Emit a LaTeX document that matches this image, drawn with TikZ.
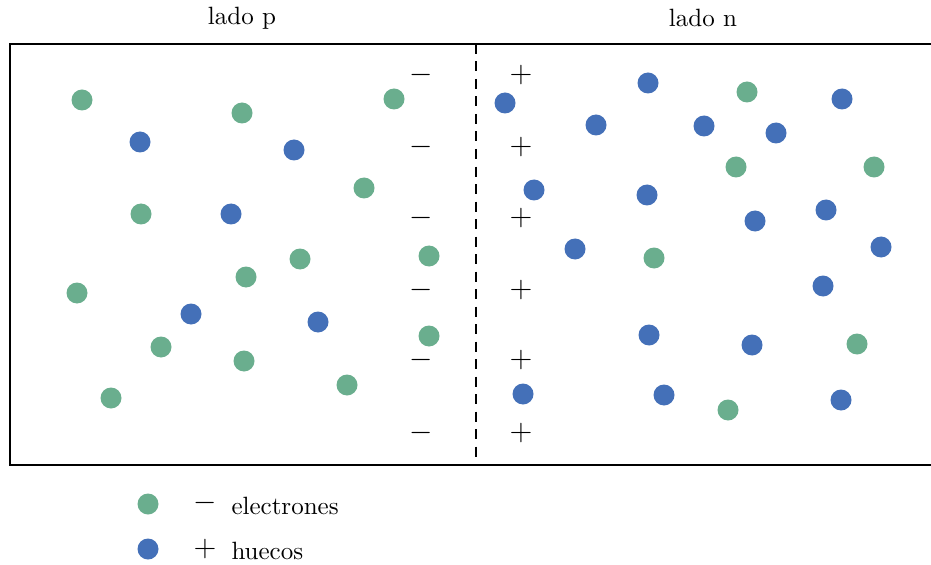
\documentclass[tikz,border=0pt]{standalone}
\begin{document}
\begin{tikzpicture}[x=0.4pt,y=-0.4pt,
  elec/.style={circle,fill=egreen,inner sep=0pt,minimum size=8.4pt},
  hole/.style={circle,fill=hblue,inner sep=0pt,minimum size=8.4pt},
  sign/.style={inner sep=0pt,font=\fontsize{11.5}{14}\selectfont}]
\definecolor{egreen}{HTML}{6AAE8E}
\definecolor{hblue}{HTML}{4470B8}
\useasboundingbox (0,0) rectangle (931,565);
\draw[line width=1pt] (10,44) rectangle (940,465);
\coordinate (dtop) at (476,44);
\coordinate (dbot) at (476,465);
\draw[line width=0.7pt,dash pattern=on 4pt off 3pt] (dtop) -- (dbot);
\node (lp) at (242,18) {lado p};
\node (ln) at (703,18) {lado n};
% electrons (green)
\foreach \x/\y [count=\i] in {82/100,242/113,394/99,364/188,141/214,429/256,300/259,246/277,77/293,429/336,161/347,244/361,347/385,111/398,747/92,736/167,874/167,654/258,857/344,728/410}
  \node[elec] (e\i) at (\x,\y) {};
% holes (blue)
\foreach \x/\y [count=\i] in {140/142,294/150,231/214,191/314,318/322,505/103,648/83,596/125,704/126,776/133,842/99,534/190,647/195,755/221,826/210,575/249,881/247,823/286,649/335,752/345,523/394,664/395,841/400}
  \node[hole] (h\i) at (\x,\y) {};
% signs
\foreach \y [count=\i] in {75,147,218,290,360,433} {
  \node[sign] (m\i) at (421,\y) {$-$};
  \node[sign] (p\i) at (521,\y) {$+$};
}
% legend
\node[elec] (le) at (148,504) {};
\node[sign] (lm) at (205,503) {$-$};
\node[anchor=west,inner sep=0pt] (lt1) at (231,506) {electrones};
\node[hole] (lh) at (148,549) {};
\node[sign] (lpl) at (205,549) {$+$};
\node[anchor=west,inner sep=0pt] (lt2) at (231,551) {huecos};
\end{tikzpicture}
\end{document}
